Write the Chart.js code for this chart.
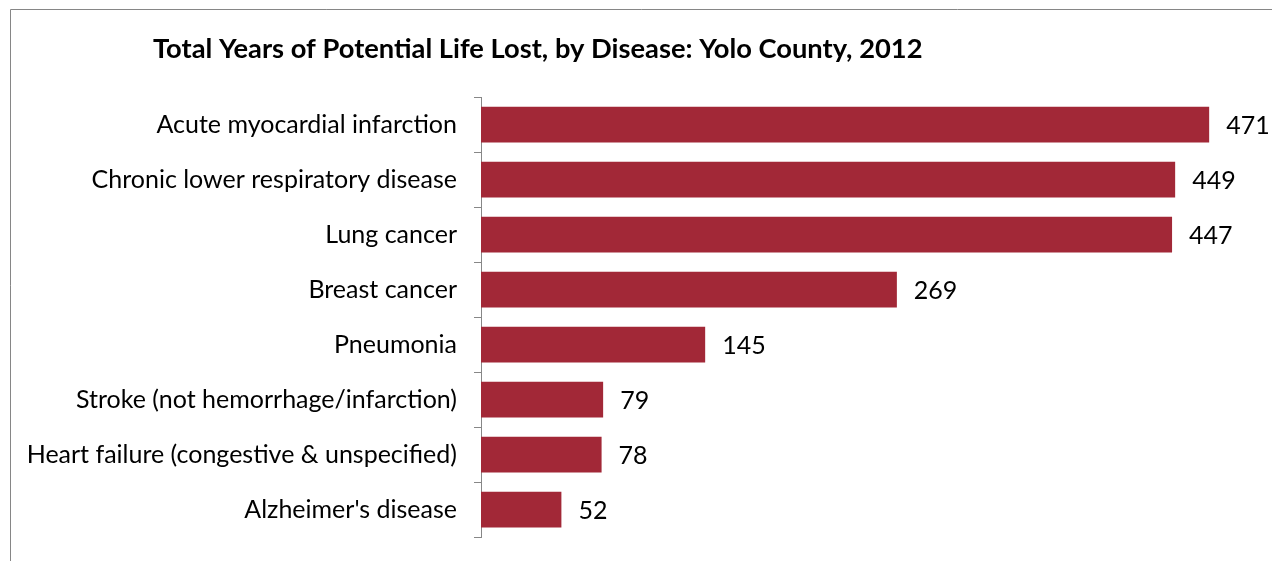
<!DOCTYPE html>
<html>
<head>
<meta charset="utf-8">
<script src="https://cdn.jsdelivr.net/npm/chart.js@4"></script>
<style>
  html, body { margin: 0; padding: 0; background: #fff; }
  #wrap { width: 1272px; height: 561px; position: relative; }
</style>
</head>
<body>
<div id="wrap"><canvas id="barChart" width="1272" height="561"></canvas></div>
<script>
const diseases = [
    'Acute myocardial infarction',
    'Chronic lower respiratory disease',
    'Lung cancer',
    'Breast cancer',
    'Pneumonia',
    'Stroke (not hemorrhage/infarction)',
    'Heart failure (congestive & unspecified)',
    "Alzheimer's disease"
];
const yearsLost = [471, 449, 447, 269, 145, 79, 78, 52];
const titleText = 'Total Years of Potential Life Lost, by Disease: Yolo County, 2012';

const barColor = '#A22837';
const fontName = 'Lato, Carlito, "Open Sans", sans-serif';

// gray frame round the chart + title placed off-center like the original
const framePlugin = {
    id: 'frame',
    beforeDraw(chart) {
        const ctx = chart.ctx;
        ctx.save();
        ctx.strokeStyle = '#868686';
        ctx.lineWidth = 1;
        ctx.beginPath();
        ctx.moveTo(10.5, chart.height + 5);
        ctx.lineTo(10.5, 9.5);
        ctx.lineTo(chart.width + 5, 9.5);
        ctx.stroke();

        ctx.font = 'bold 27.3px ' + fontName;
        ctx.fillStyle = '#000';
        ctx.textAlign = 'left';
        ctx.textBaseline = 'middle';
        ctx.fillText(titleText, 153, 49);
        ctx.restore();
    }
};

// value labels to the right of each bar
const valueLabels = {
    id: 'valueLabels',
    afterDatasetsDraw(chart) {
        const ctx = chart.ctx;
        const meta = chart.getDatasetMeta(0);
        ctx.save();
        ctx.font = '25px ' + fontName;
        ctx.fillStyle = '#000';
        ctx.textAlign = 'left';
        ctx.textBaseline = 'middle';
        meta.data.forEach(function(bar, i) {
            ctx.fillText(yearsLost[i], bar.x + 17, bar.y + 1);
        });
        ctx.restore();
    }
};

const bar = document.getElementById('barChart');
new Chart(bar, {
    type: 'bar',
    data: {
        labels: diseases,
        datasets: [{
            data: yearsLost,
            backgroundColor: barColor,
            borderWidth: 0,
            barPercentage: 0.65,
            categoryPercentage: 1.0,
        }]
    },
    options: {
        indexAxis: 'y',
        responsive: false,
        animation: false,
        devicePixelRatio: 1,
        layout: {
            padding: { left: 0, right: 18, top: 97, bottom: 24 }
        },
        scales: {
            x: {
                display: false,
                min: 0,
                max: 500,
            },
            y: {
                afterFit: function(scale) {
                    scale.width = 481;
                    scale.paddingTop = 0;    // labels sit mid-category, no extra room needed
                    scale.paddingBottom = 0;
                },
                grid: {
                    drawOnChartArea: false,
                    tickLength: 7,
                    color: '#878787',
                },
                border: { color: '#878787', width: 1 },
                ticks: {
                    color: '#000',
                    padding: 17,
                    font: { family: fontName, size: 25 },
                }
            }
        },
        plugins: {
            legend: { display: false },
            tooltip: { enabled: false },
            title: { display: false }
        }
    },
    plugins: [framePlugin, valueLabels]
});
</script>
</body>
</html>
